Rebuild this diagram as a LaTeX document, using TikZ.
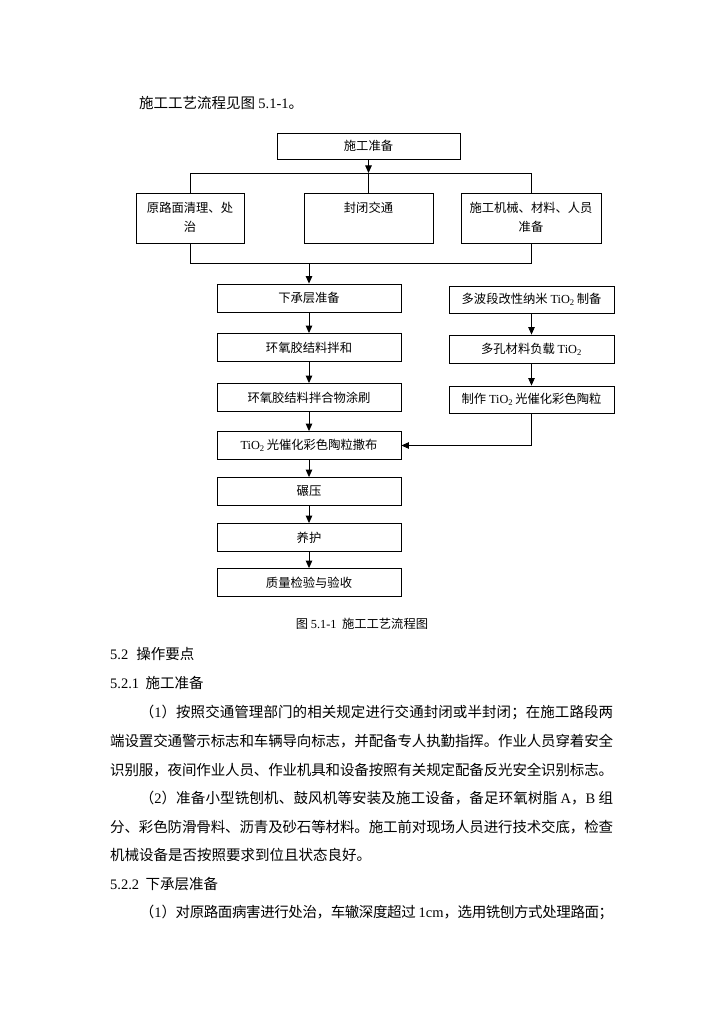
\documentclass[tikz,border=0pt]{standalone}
\usepackage{fontspec}
\setmainfont{Noto Sans CJK SC}
\newfontfamily\lat{Liberation Serif}
\usetikzlibrary{arrows.meta}
\ifdefined\newXeTeXintercharclass
  \newXeTeXintercharclass\cjkcls
\else
  \chardef\cjkcls=11
\fi
\makeatletter
\count@="4E00
\loop
  \XeTeXcharclass\count@=\cjkcls
  \advance\count@ by 1
\ifnum\count@<"A000 \repeat
\count@="3000
\loop
  \XeTeXcharclass\count@=\cjkcls
  \advance\count@ by 1
\ifnum\count@<"3040 \repeat
\count@="FF00
\loop
  \XeTeXcharclass\count@=\cjkcls
  \advance\count@ by 1
\ifnum\count@<"FFF0 \repeat
\makeatother
\XeTeXinterchartoks\cjkcls\cjkcls={\hskip 0pt plus 2pt minus 1.2pt\relax}
\XeTeXinterchartokenstate=1
\newcommand\TiOii{{\lat TiO\textsubscript{2}}}
\begin{document}
\begin{tikzpicture}[x=1pt,y=-1pt,
  box/.style={draw, line width=0.85pt, inner sep=0pt, minimum height=28pt,
    align=center, font=\fontsize{12.3}{19}\selectfont},
  arr/.style={line width=0.85pt, -{Triangle[length=7.5pt,width=6.5pt]}},
  ln/.style={line width=0.85pt},
  ptxt/.style={inner sep=0pt, anchor=west, font=\fontsize{14.5}{17}\selectfont},
  captxt/.style={inner sep=0pt, font=\fontsize{12.3}{15}\selectfont}]
\useasboundingbox (0,0) rectangle (724,1024);
\fill[white] (0,0) rectangle (724,1024);

% intro
\node[ptxt] (intro) at (139,103) {施工工艺流程见图 {\lat 5.1-1}。};

% top part
\node[box, minimum width=183pt, minimum height=26pt] (prep) at (368.5,146) {施工准备};
\node[box, minimum width=108pt, minimum height=50pt] (b1) at (190,218) {\strut 原路面清理、处\\\strut 治};
\node[box, minimum width=129pt, minimum height=50pt] (b2) at (368.5,218) {\strut 封闭交通\\\strut};
\node[box, minimum width=140pt, minimum height=50pt] (b3) at (531,218) {\strut 施工机械、材料、人员\\\strut 准备};

\coordinate (tl) at (189,173);
\coordinate (bl) at (189,263);

% left column
\node[box, minimum width=184pt] (s1) at (309,298) {下承层准备};
\node[box, minimum width=184pt] (s2) at (309,347.5) {环氧胶结料拌和};
\node[box, minimum width=184pt] (s3) at (309,397.5) {环氧胶结料拌合物涂刷};
\node[box, minimum width=184pt] (s4) at (309,445.5) {\TiOii\,光催化彩色陶粒撒布};
\node[box, minimum width=184pt] (s5) at (309,491.5) {碾压};
\node[box, minimum width=184pt] (s6) at (309,537.5) {养护};
\node[box, minimum width=184pt] (s7) at (309,582.5) {质量检验与验收};

% right column
\node[box, minimum width=165pt, minimum height=27pt] (r1) at (531.5,299.5) {多波段改性纳米 \TiOii\,制备};
\node[box, minimum width=165pt, minimum height=28pt] (r2) at (531.5,349) {多孔材料负载 \TiOii};
\node[box, minimum width=165pt, minimum height=27pt] (r3) at (531.5,399.5) {制作 \TiOii\,光催化彩色陶粒};

% connectors
\draw[arr] (prep.south) -- (prep.south |- tl);
\draw[ln] (b1.north) -- (b1.north |- tl) -- (b3.north |- tl) -- (b3.north);
\draw[ln] (b2.north) -- (b2.north |- tl);
\draw[ln] (b1.south) -- (b1.south |- bl) -- (b3.south |- bl) -- (b3.south);
\draw[arr] (s1.north |- bl) -- (s1.north);
\draw[arr] (s1.south) -- (s2.north);
\draw[arr] (s2.south) -- (s3.north);
\draw[arr] (s3.south) -- (s4.north);
\draw[arr] (s4.south) -- (s5.north);
\draw[arr] (s5.south) -- (s6.north);
\draw[arr] (s6.south) -- (s7.north);
\draw[arr] (r1.south) -- (r2.north);
\draw[arr] (r2.south) -- (r3.north);
\draw[arr] (r3.south) |- (s4.east);

% caption
\node[captxt] (caption) at (362,624) {图 {\lat 5.1-1}\ \ 施工工艺流程图};

% body text
\node[ptxt] (h52) at (110,654) {{\lat 5.2}\hspace{0.55em}操作要点};
\node[ptxt] (h521) at (110,683) {{\lat 5.2.1}\hspace{0.45em}施工准备};
\node[ptxt] (p1a) at (139.6,712) {\makebox[473.4pt][s]{（{\lat 1}）按照交通管理部门的相关规定进行交通封闭或半封闭；在施工路段两}};
\node[ptxt] (p1b) at (110,741) {\makebox[503pt][s]{端设置交通警示标志和车辆导向标志，并配备专人执勤指挥。作业人员穿着安全}};
\node[ptxt] (p1c) at (110,770) {\makebox[503pt][s]{识别服，夜间作业人员、作业机具和设备按照有关规定配备反光安全识别标志。}};
\node[ptxt] (p2a) at (139.6,798) {\makebox[473.4pt][s]{（{\lat 2}）准备小型铣刨机、鼓风机等安装及施工设备，备足环氧树脂 {\lat A}，{\lat B} 组}};
\node[ptxt] (p2b) at (110,827) {\makebox[503pt][s]{分、彩色防滑骨料、沥青及砂石等材料。施工前对现场人员进行技术交底，检查}};
\node[ptxt] (p2c) at (110,855) {机械设备是否按照要求到位且状态良好。};
\node[ptxt] (h522) at (110,884) {{\lat 5.2.2}\hspace{0.45em}下承层准备};
\node[ptxt] (p3a) at (139.6,912) {\makebox[473.4pt][s]{（{\lat 1}）对原路面病害进行处治，车辙深度超过 {\lat 1cm}，选用铣刨方式处理路面；}};
\end{tikzpicture}
\end{document}
